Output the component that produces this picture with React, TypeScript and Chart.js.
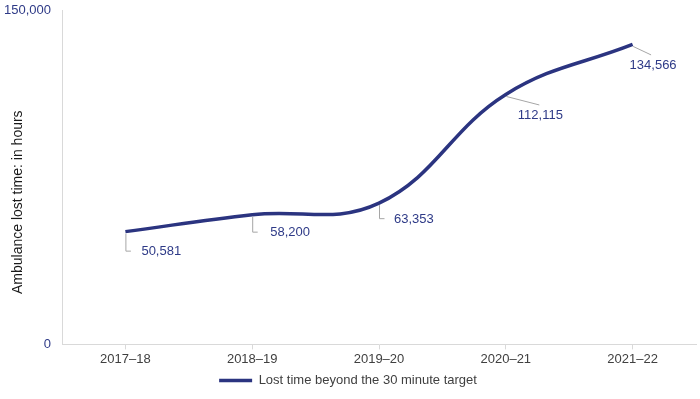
import React, { useEffect, useRef } from "react";
import { Chart, registerables } from "chart.js";

Chart.register(...registerables);

const categories = ["2017–18", "2018–19", "2019–20", "2020–21", "2021–22"];
const lostHours = [50581, 58200, 63353, 112115, 134566];
const yTicks = [0, 150000];
const seriesLabel = "Lost time beyond the 30 minute target";
const yTitle = "Ambulance lost time: in hours";

// label placement relative to each point: leader path and text anchor
const labelLayout = [
  { path: [[0, 0], [0, 19], [5, 19]], text: [16, 20] },
  { path: [[0, 0], [0, 17], [5, 17]], text: [18, 18] },
  { path: [[0, 0], [0, 15], [5, 15]], text: [15, 16] },
  { path: [[0, 0], [33, 10]], text: [12, 21] },
  { path: [[0, 0], [18, 10]], text: [-3, 21] },
];

const NAVY = "#2B3480";
const FONT = "'Liberation Sans', Arial, sans-serif";

const labelPlugin = {
  id: "leaderLabels",
  afterDatasetsDraw(chart: any) {
    const meta = chart.getDatasetMeta(0);
    const ctx = chart.ctx;
    ctx.save();
    meta.data.forEach((pt: any, i: number) => {
      const lay = labelLayout[i];
      const x = pt.x;
      const y = pt.y;
      ctx.strokeStyle = "#A6A6A6";
      ctx.lineWidth = 1;
      ctx.beginPath();
      lay.path.forEach((p: number[], j: number) => {
        if (j === 0) ctx.moveTo(x + p[0] + 0.5, y + p[1] + 2);
        else ctx.lineTo(x + p[0] + 0.5, y + p[1] + 0.5);
      });
      ctx.stroke();
      ctx.fillStyle = "#2E3A87";
      ctx.font = `13px ${FONT}`;
      ctx.textAlign = "left";
      ctx.textBaseline = "middle";
      ctx.fillText(lostHours[i].toLocaleString("en-US"), x + lay.text[0], y + lay.text[1]);
    });
    ctx.restore();
  },
};

const yTitlePlugin = {
  id: "yTitle",
  afterDraw(chart: any) {
    const ctx = chart.ctx;
    const area = chart.chartArea;
    ctx.save();
    ctx.translate(18, (area.top + area.bottom) / 2 + 25);
    ctx.rotate(-Math.PI / 2);
    ctx.fillStyle = "#1A1A1A";
    ctx.font = `14px ${FONT}`;
    ctx.textAlign = "center";
    ctx.textBaseline = "middle";
    ctx.fillText(yTitle, 0, 0);
    ctx.restore();
  },
};

export default function App() {
  const ref = useRef<HTMLCanvasElement>(null);
  useEffect(() => {
    if (!ref.current) return;
    const chart = new Chart(ref.current, {
      type: "line",
      data: {
        labels: categories,
        datasets: [
          {
            label: seriesLabel,
            data: lostHours,
            borderColor: NAVY,
            backgroundColor: NAVY,
            borderWidth: 3.5,
            tension: 0.4,
            pointRadius: 0,
            fill: false,
          },
        ],
      },
      options: {
        animation: false,
        responsive: false,
        maintainAspectRatio: false,
        layout: { padding: { top: 10, right: 4, left: 0, bottom: 2 } },
        scales: {
          x: {
            offset: true,
            afterFit: (scale: any) => {
              scale.height = scale.height - 1;
            },
            grid: {
              display: true,
              drawOnChartArea: false,
              drawTicks: true,
              tickLength: 5,
              offset: false,
              color: "#D9D9D9",
            },
            border: { display: true, color: "#D9D9D9", width: 1 },
            ticks: { color: "#404040", font: { family: FONT, size: 13 }, padding: 2, maxRotation: 0 },
          },
          y: {
            min: yTicks[0],
            max: yTicks[yTicks.length - 1],
            afterBuildTicks: (scale: any) => {
              scale.ticks = yTicks.map((v) => ({ value: v }));
            },
            afterFit: (scale: any) => {
              scale.width = 62;
              scale.paddingTop = 0;
              scale.paddingBottom = 0;
            },
            grid: { display: false, drawTicks: false },
            border: { display: true, color: "#D9D9D9", width: 1 },
            ticks: {
              color: "#2E3A87",
              font: { family: FONT, size: 13 },
              padding: 11,
              callback: (v: any) => Number(v).toLocaleString("en-US"),
            },
          },
        },
        plugins: {
          legend: {
            display: true,
            position: "bottom",
            labels: {
              usePointStyle: true,
              pointStyle: "line",
              pointStyleWidth: 33,
              color: "#404040",
              font: { family: FONT, size: 13 },
              padding: 6,
            },
          },
          tooltip: { enabled: false },
        },
      },
      plugins: [labelPlugin, yTitlePlugin],
    });
    return () => chart.destroy();
  }, []);
  return (
    <div style={{ position: "fixed", left: 0, top: 0, width: 700, height: 399, background: "#fff" }}>
      <canvas ref={ref} width={700} height={399} />
    </div>
  );
}
